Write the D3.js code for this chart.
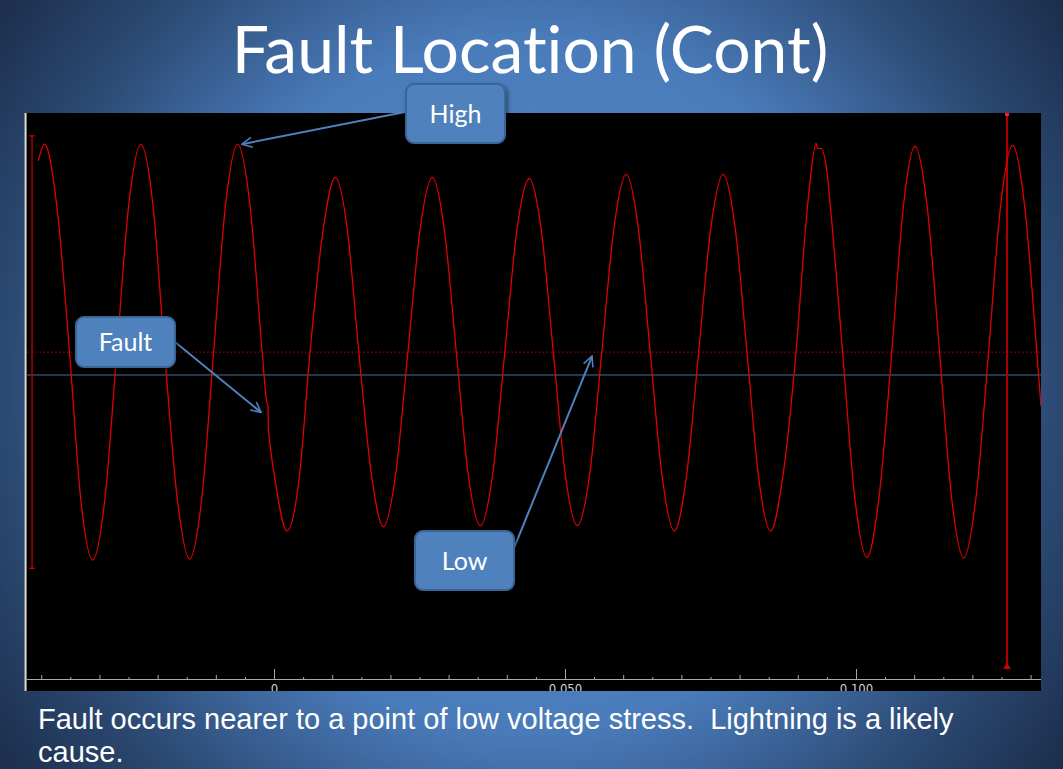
<!DOCTYPE html>
<html>
<head>
<meta charset="utf-8">
<script src="https://cdn.jsdelivr.net/npm/d3@7"></script>
<style>
  html, body { margin: 0; padding: 0; background: #1c2f4c; }
  svg { display: block; }
</style>
</head>
<body>
<svg></svg>
<script>
var width = 1063, height = 769;
var plot = { left: 24, right: 1041, top: 113, bottom: 691 };
var axisLineY = 679;

const timeMs = [
  -40.50, -39.43, -37.35, -35.14, -33.20, -31.15, -29.07, -27.01, -24.95,
  -22.89, -20.81, -18.81, -16.60, -14.50, -12.44, -10.38, -8.32,
  -6.24, -4.14, -2.03, -1.25, -1.03, -0.98, -0.57, 0.15,
  2.23, 4.31, 6.19, 8.45, 10.53, 12.59, 14.57, 16.74,
  18.81, 20.89, 23.01, 25.10, 27.20, 29.26, 31.32, 33.38,
  35.46, 37.56, 39.66, 41.75, 43.85, 45.91, 47.99, 50.05,
  52.13, 54.23, 56.32, 58.42, 60.52, 62.58, 64.64, 66.70,
  68.78, 70.86, 72.97, 75.07, 77.16, 79.23, 81.27, 83.30,
  85.33, 87.37, 89.69, 91.41, 92.22, 93.13, 93.38, 93.99, 94.97, 95.60,
  97.70, 99.79, 101.87, 103.95, 106.15, 108.14, 110.14, 112.23,
  114.36, 116.43, 118.52, 120.62, 122.78, 124.83, 126.91, 128.99,
  131.07, 131.79
];
const voltagePu = [
  0.92, 1.00, 0.71, 0, -0.71, -1.00, -0.71, 0, 0.71,
  1.00, 0.71, 0, -0.71, -0.995, -0.71, 0, 0.71,
  1.00, 0.71, 0, -0.24, -0.26, -0.36, -0.47, -0.61,
  -0.86, -0.61, 0, 0.59, 0.84, 0.59, 0, -0.59,
  -0.84, -0.59, 0, 0.59, 0.84, 0.59, 0, -0.59,
  -0.835, -0.59, 0, 0.59, 0.835, 0.59, 0, -0.59,
  -0.835, -0.59, 0, 0.60, 0.855, 0.60, 0, -0.60,
  -0.86, -0.60, 0, 0.60, 0.855, 0.60, 0, -0.61,
  -0.86, -0.61, 0, 0.62, 0.85, 1.005, 0.98, 0.98, 0.875, 0.70,
  0, -0.70, -0.987, -0.70, 0, 0.70, 0.99, 0.70,
  0, -0.70, -0.99, -0.70, 0, 0.70, 0.995, 0.70,
  0, -0.26
];

// time axis (seconds)
const axisTicks = [
  -0.040, -0.035, -0.030, -0.025, -0.020, -0.015, -0.010, -0.005,
  0, 0.005, 0.010, 0.015, 0.020, 0.025, 0.030, 0.035, 0.040, 0.045,
  0.050, 0.055, 0.060, 0.065, 0.070, 0.075, 0.080, 0.085, 0.090, 0.095,
  0.100, 0.105, 0.110, 0.115, 0.120, 0.125, 0.130
];
const majorTicks = [0, 0.050, 0.100];
const majorLabels = ["0", "0.050", "0.100"];

// markers on the record
const scaleBarMs = -41.58;
const scaleBarPu = [-1.04, 1.04];
const cursorMs = 125.95;
const cursorEndPu = -1.51;
const zeroLinePu = 0;
const refLinePu = -0.11;

// callouts
const calloutText = ["High", "Fault", "Low"];
const calloutTargetMs = [-5.50, -2.23, 54.64];
const calloutTargetPu = [1.0, -0.29, -0.02];

const titleText = "Fault Location (Cont)";
const captionLines = [
  "Fault occurs nearer to a point of low voltage stress.  Lightning is a likely",
  "cause."
];

// box layout for the callouts
var boxes = [
  { x: 406, y: 84, w: 99, h: 59, ax: 405, ay: 112 },
  { x: 76, y: 317, w: 99, h: 50, ax: 175, ay: 342 },
  { x: 415, y: 531, w: 99, h: 59, ax: 514, ay: 548 }
];

const svg = d3.select("svg")
    .attr("width", width)
    .attr("height", height);

const defs = svg.append("defs");

const bg = defs.append("radialGradient")
    .attr("id", "bg")
    .attr("gradientUnits", "userSpaceOnUse")
    .attr("cx", 531).attr("cy", 384).attr("r", 650);
bg.append("stop").attr("offset", 0).attr("stop-color", "#5288c8");
bg.append("stop").attr("offset", 0.53).attr("stop-color", "#4a7cbb");
bg.append("stop").attr("offset", 0.8).attr("stop-color", "#2c4a74");
bg.append("stop").attr("offset", 1).attr("stop-color", "#1c2f4c");

defs.append("clipPath").attr("id", "plotClip")
  .append("rect")
    .attr("x", plot.left).attr("y", plot.top)
    .attr("width", plot.right - plot.left)
    .attr("height", plot.bottom - plot.top);

const shadow = defs.append("filter").attr("id", "shadow")
    .attr("x", "-20%").attr("y", "-20%").attr("width", "150%").attr("height", "150%");
shadow.append("feDropShadow")
    .attr("dx", 2).attr("dy", 2).attr("stdDeviation", 2)
    .attr("flood-color", "#000").attr("flood-opacity", 0.45);

defs.append("marker")
    .attr("id", "arrow")
    .attr("viewBox", "0 0 12 12")
    .attr("refX", 11).attr("refY", 6)
    .attr("markerWidth", 6).attr("markerHeight", 6)
    .attr("markerUnits", "strokeWidth")
    .attr("orient", "auto")
  .append("path")
    .attr("d", "M1,1 L11,6 L1,11")
    .attr("fill", "none")
    .attr("stroke", "#4f81bd")
    .attr("stroke-width", 1.6);

svg.append("rect")
    .attr("width", width).attr("height", height)
    .attr("fill", "url(#bg)");

// title
svg.append("text")
    .attr("x", 530).attr("y", 73)
    .attr("text-anchor", "middle")
    .attr("fill", "#ffffff")
    .style("font-family", "Lato, 'Open Sans', sans-serif")
    .style("font-size", "66px")
    .style("font-variant-ligatures", "none")
    .text(titleText);

// plot area
svg.append("rect")
    .attr("x", plot.left).attr("y", plot.top)
    .attr("width", plot.right - plot.left)
    .attr("height", plot.bottom - plot.top)
    .attr("fill", "#000000");

const x = d3.scaleLinear()
    .domain([-0.04296, 0.13179])
    .range([plot.left, plot.right]);

const y = d3.scaleLinear()
    .domain([-1.63, 1.15])
    .range([plot.bottom, plot.top]);

const g = svg.append("g").attr("clip-path", "url(#plotClip)");

// left border line
g.append("line")
    .attr("x1", plot.left + 1.5).attr("x2", plot.left + 1.5)
    .attr("y1", plot.top).attr("y2", plot.bottom)
    .attr("stroke", "#d8d8d8").attr("stroke-width", 2.2);

// zero line (dotted) and reference line
g.append("line")
    .attr("x1", plot.left + 4).attr("x2", plot.right)
    .attr("y1", y(zeroLinePu)).attr("y2", y(zeroLinePu))
    .attr("stroke", "#b00000").attr("stroke-width", 1.2)
    .attr("stroke-dasharray", "1.3,2.6");

g.append("line")
    .attr("x1", plot.left + 2).attr("x2", plot.right)
    .attr("y1", y(refLinePu)).attr("y2", y(refLinePu))
    .attr("stroke", "#4d6f9c").attr("stroke-width", 1);

// time axis
const tickLen = d => {
    if (majorTicks.some(m => Math.abs(m - d) < 1e-9)) return 10;
    if (Math.abs(Math.round(d * 100) - d * 100) < 1e-6) return 4;
    return 2;
};

const xAxis = d3.axisBottom(x)
    .tickValues(axisTicks)
    .tickSize(-2)
    .tickSizeOuter(0)
    .tickPadding(5)
    .tickFormat(d => {
        const i = majorTicks.findIndex(m => Math.abs(m - d) < 1e-9);
        return i >= 0 ? majorLabels[i] : "";
    });

const axisG = g.append("g")
    .attr("transform", `translate(0,${axisLineY})`)
    .call(xAxis);

axisG.select(".domain").attr("stroke", "#a9a9a9");
axisG.selectAll(".tick line")
    .attr("stroke", "#a9a9a9")
    .attr("y2", d => -tickLen(d));
axisG.selectAll(".tick text")
    .attr("fill", "#d0d0d0")
    .style("font-family", "'Liberation Sans Narrow', 'DejaVu Sans Condensed', sans-serif")
    .style("font-size", "13px");

// scale bar
const sx = x(scaleBarMs / 1000);
g.append("line")
    .attr("x1", sx).attr("x2", sx)
    .attr("y1", y(scaleBarPu[1])).attr("y2", y(scaleBarPu[0]))
    .attr("stroke", "#c80000").attr("stroke-width", 1.3);
g.selectAll(".cap")
    .data(scaleBarPu)
    .enter().append("line")
    .attr("class", "cap")
    .attr("x1", sx - 3).attr("x2", sx + 3)
    .attr("y1", d => y(d)).attr("y2", d => y(d))
    .attr("stroke", "#c80000").attr("stroke-width", 1.3);

// cursor
const cx = x(cursorMs / 1000);
g.append("line")
    .attr("x1", cx).attr("x2", cx)
    .attr("y1", plot.top).attr("y2", y(cursorEndPu))
    .attr("stroke", "#b00000").attr("stroke-width", 2);
g.append("path")
    .attr("d", `M${cx - 4},${y(cursorEndPu) + 3} L${cx},${y(cursorEndPu) - 3} L${cx + 4},${y(cursorEndPu) + 3} Z`)
    .attr("fill", "#d00000");
g.append("rect")
    .attr("x", cx - 2).attr("y", plot.top)
    .attr("width", 4).attr("height", 3)
    .attr("fill", "#ff2020");

// waveform
const wave = timeMs.map((t, i) => ({ t: t / 1000, v: voltagePu[i] }));

const line = d3.line()
    .x(d => x(d.t))
    .y(d => y(d.v))
    .curve(d3.curveMonotoneX);

g.append("path")
    .datum(wave)
    .attr("fill", "none")
    .attr("stroke", "#e00000")
    .attr("stroke-width", 1.3)
    .attr("d", line);

// callout arrows and boxes
const callouts = calloutText.map((t, i) => ({
    text: t,
    tx: x(calloutTargetMs[i] / 1000),
    ty: y(calloutTargetPu[i]),
    box: boxes[i]
}));

svg.selectAll(".arrow")
    .data(callouts)
    .enter().append("line")
    .attr("class", "arrow")
    .attr("x1", d => d.box.ax).attr("y1", d => d.box.ay)
    .attr("x2", d => d.tx).attr("y2", d => d.ty)
    .attr("stroke", "#4f81bd")
    .attr("stroke-width", 2)
    .attr("marker-end", "url(#arrow)");

const boxG = svg.selectAll(".callout")
    .data(callouts)
    .enter().append("g")
    .attr("class", "callout");

boxG.append("rect")
    .attr("x", d => d.box.x).attr("y", d => d.box.y)
    .attr("width", d => d.box.w).attr("height", d => d.box.h)
    .attr("rx", 8).attr("ry", 8)
    .attr("fill", "#4f81bd")
    .attr("stroke", "#3b6594")
    .attr("stroke-width", 2)
    .attr("filter", "url(#shadow)");

boxG.append("text")
    .attr("x", d => d.box.x + d.box.w / 2)
    .attr("y", d => d.box.y + d.box.h / 2)
    .attr("dy", "0.36em")
    .attr("text-anchor", "middle")
    .attr("fill", "#ffffff")
    .style("font-family", "Lato, 'Open Sans', sans-serif")
    .style("font-size", "25px")
    .text(d => d.text);

// caption
svg.selectAll(".caption")
    .data(captionLines)
    .enter().append("text")
    .attr("class", "caption")
    .attr("x", 38)
    .attr("y", (d, i) => 729 + i * 33)
    .attr("fill", "#ffffff")
    .attr("xml:space", "preserve")
    .style("white-space", "pre")
    .style("font-family", "'Liberation Sans', Arial, sans-serif")
    .style("font-size", "29px")
    .text(d => d);
</script>
</body>
</html>
